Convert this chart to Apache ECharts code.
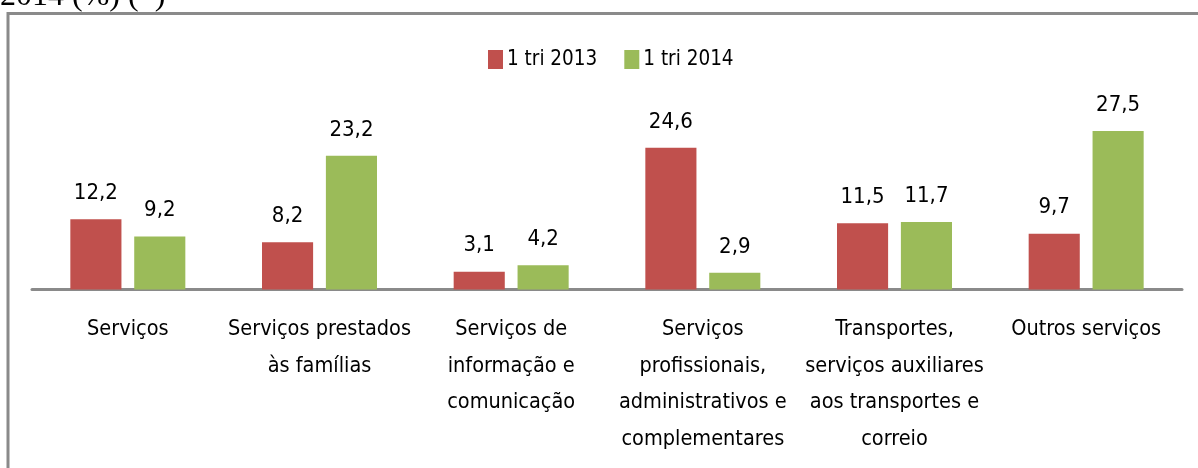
<!DOCTYPE html>
<html>
<head>
<meta charset="utf-8">
<script src="https://cdn.jsdelivr.net/npm/echarts@6/dist/echarts.min.js"></script>
<style>html,body{margin:0;padding:0;background:#fff;}#c{width:1198px;height:468px;}</style>
</head>
<body>
<div id="c"></div>
<script>
const categories = [
  "Serviços",
  "Serviços prestados\nàs famílias",
  "Serviços de\ninformação e\ncomunicação",
  "Serviços\nprofissionais,\nadministrativos e\ncomplementares",
  "Transportes,\nserviços auxiliares\naos transportes e\ncorreio",
  "Outros serviços"
];
const seriesNames = ["1 tri 2013", "1 tri 2014"];
const values2013 = [12.2, 8.2, 3.1, 24.6, 11.5, 9.7];
const values2014 = [9.2, 23.2, 4.2, 2.9, 11.7, 27.5];
const titleText = "2014 (%) (*)";

const FONT = '"DejaVu Sans Condensed", sans-serif';
const chart = echarts.init(document.getElementById('c'));
const labelOpt = {
  show: true, position: 'top', distance: 15,
  color: '#000', fontFamily: FONT, fontSize: 22,
  formatter: p => String(p.value).replace('.', ',')
};
chart.setOption({
  animation: false,
  graphic: [
    { type: 'rect', shape: { x: 8, y: 13.5, width: 1400, height: 700 },
      style: { fill: 'none', stroke: '#8a8a8a', lineWidth: 3 }, silent: true },
    { type: 'text', x: 0, y: 13,
      style: { text: titleText, font: '32px "Liberation Serif", serif', fill: '#000', verticalAlign: 'bottom' } }
  ],
  legend: {
    left: 483, top: 44, itemWidth: 15, itemHeight: 19, itemGap: 27,
    icon: 'rect',
    textStyle: { fontFamily: FONT, fontSize: 20.5, color: '#000', padding: [0, 0, 0, -1] },
    data: seriesNames
  },
  grid: { left: 32, right: 16, top: 116.7, bottom: 178.5, containLabel: false },
  xAxis: {
    type: 'category', data: categories,
    axisLine: { lineStyle: { color: '#8a8a8a', width: 3 } },
    axisTick: { show: false },
    axisLabel: { interval: 0, margin: 22, color: '#000', fontFamily: FONT, fontSize: 21.5, lineHeight: 36.5 }
  },
  yAxis: { type: 'value', min: 0, max: 30, show: false, splitLine: { show: false } },
  series: [
    { name: seriesNames[0], type: 'bar', data: values2013, itemStyle: { color: '#C0504D' },
      barGap: '25%', barCategoryGap: '40%', label: labelOpt },
    { name: seriesNames[1], type: 'bar', data: values2014, itemStyle: { color: '#9BBB59' },
      barGap: '25%', barCategoryGap: '40%', label: labelOpt }
  ]
});
</script>
</body>
</html>
